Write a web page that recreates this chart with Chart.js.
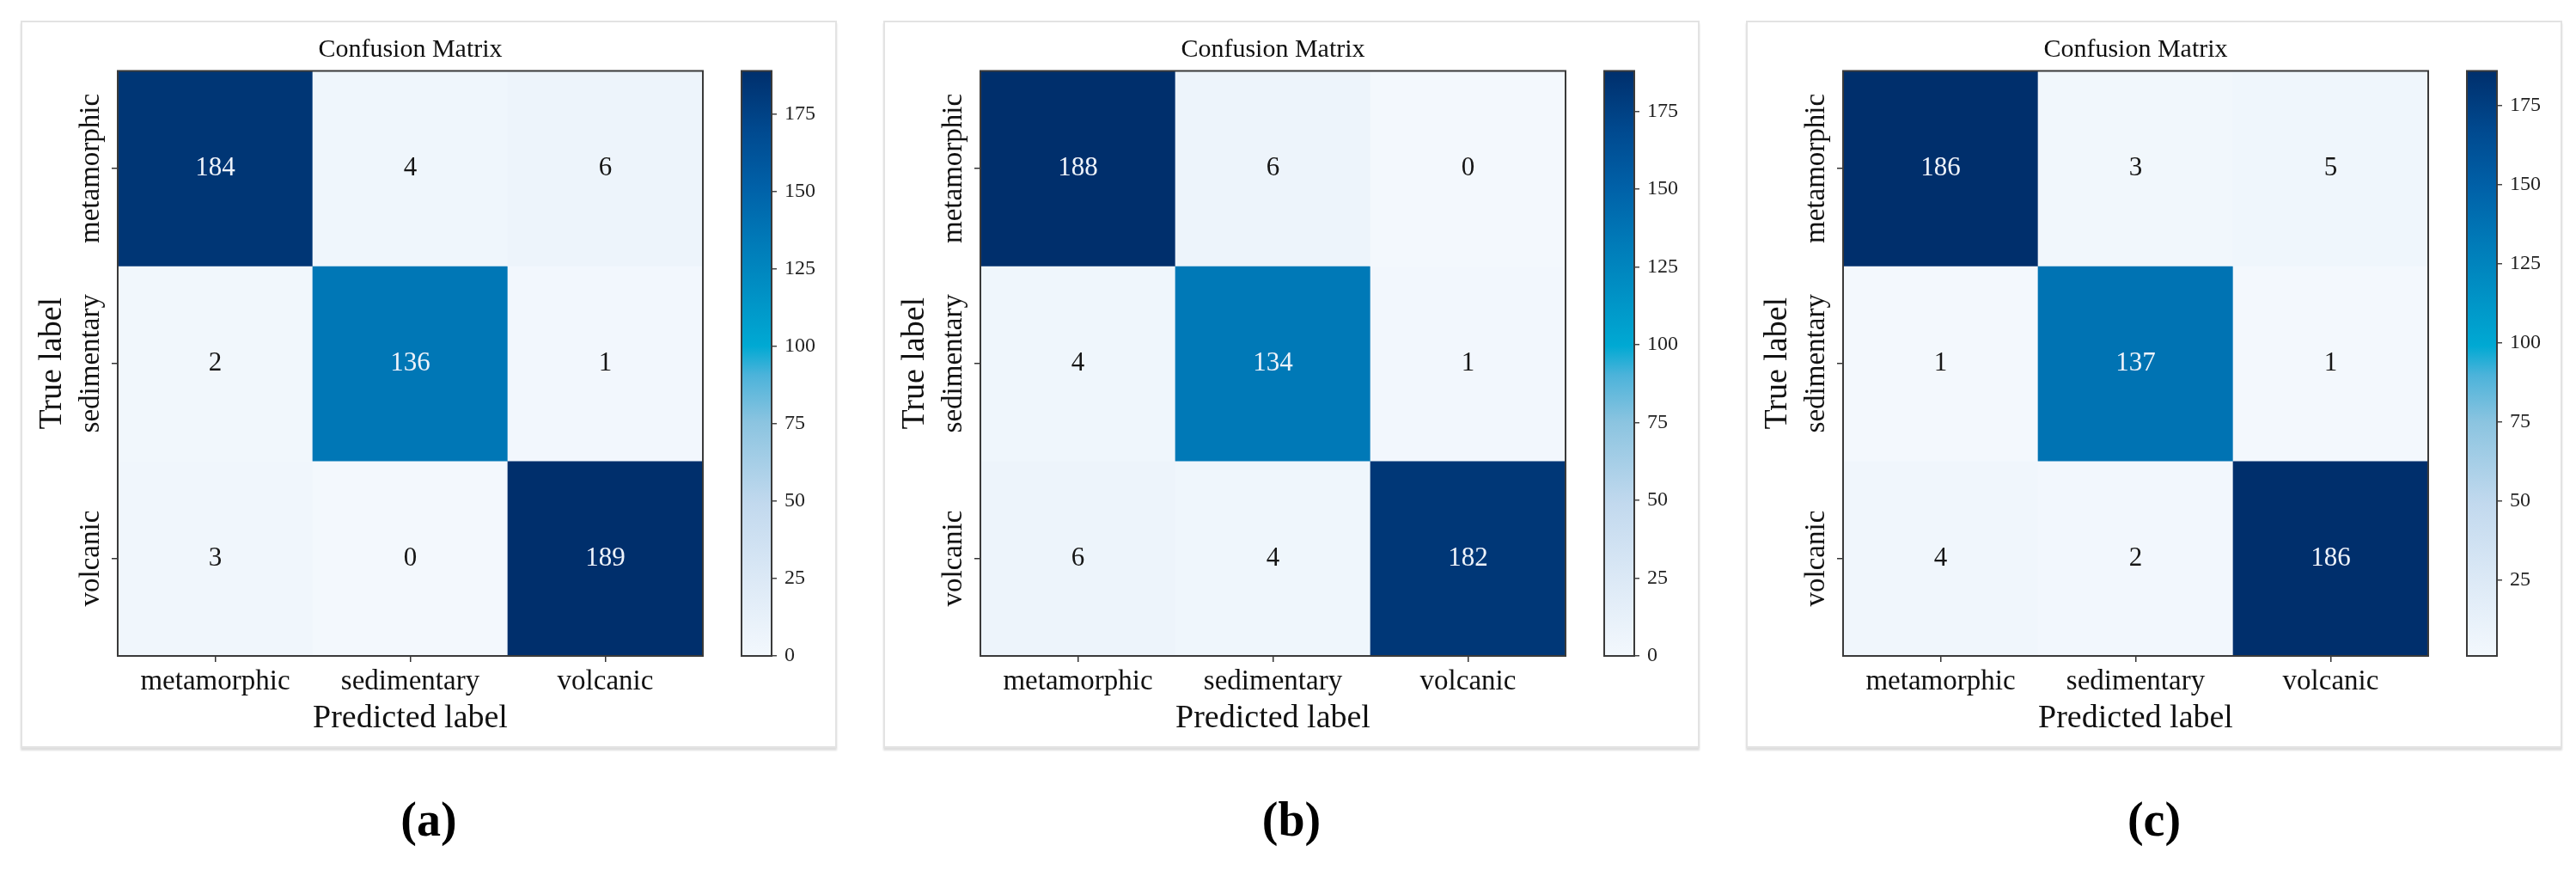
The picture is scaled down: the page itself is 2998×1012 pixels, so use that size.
<!DOCTYPE html>
<html>
<head>
<meta charset="utf-8">
<script src="https://cdn.jsdelivr.net/npm/chart.js@4.4.0/dist/chart.umd.min.js"></script>
<style>
  body { margin: 0; background: #fff; width: 2998px; height: 1012px; overflow: hidden; position: relative; }
  .panel { position: absolute; top: 24px; width: 946px; height: 842px; border: 2px solid #e3e3e3; box-shadow: 0 3px 2px #dedede; background: #fff; }
  .panel canvas { position: absolute; top: 0; }
  .letter { position: absolute; top: 925px; width: 950px; text-align: center; font: bold 56px "Liberation Serif", serif; line-height: 56px; color: #000; }
</style>
</head>
<body>
<div id="root"></div>
<script>
// class names and confusion matrices (rows = true label, cols = predicted)
const classNames = ['metamorphic', 'sedimentary', 'volcanic'];
const matrixA = [[184, 4, 6], [2, 136, 1], [3, 0, 189]];
const matrixB = [[188, 6, 0], [4, 134, 1], [6, 4, 182]];
const matrixC = [[186, 3, 5], [1, 137, 1], [4, 2, 186]];
const colorbarTicks = [0, 25, 50, 75, 100, 125, 150, 175];
const panelLetters = ['(a)', '(b)', '(c)'];

const SERIF = '"Liberation Serif", "Times New Roman", serif';
Chart.defaults.font.family = SERIF;

// colour ramp
const cmapStops = [
  [0.00, '#f3f8fd'], [0.13, '#dce9f6'], [0.26, '#c2d9ee'], [0.40, '#8bc4e0'],
  [0.48, '#4cb3da'], [0.53, '#00a9d3'], [0.62, '#0091c5'], [0.72, '#0077b6'],
  [0.80, '#0061a8'], [0.90, '#00498f'], [1.00, '#002f6c']
];

function hexToRgb(h) {
  return [parseInt(h.slice(1, 3), 16), parseInt(h.slice(3, 5), 16), parseInt(h.slice(5, 7), 16)];
}

function colorAt(t) {
  t = Math.max(0, Math.min(1, t));
  for (let i = 1; i < cmapStops.length; i++) {
    if (t <= cmapStops[i][0]) {
      const [t0, c0] = cmapStops[i - 1];
      const [t1, c1] = cmapStops[i];
      const f = (t - t0) / (t1 - t0);
      const a = hexToRgb(c0), b = hexToRgb(c1);
      const rgb = a.map((v, k) => Math.round(v + (b[k] - v) * f));
      return `rgb(${rgb[0]},${rgb[1]},${rgb[2]})`;
    }
  }
  return cmapStops[cmapStops.length - 1][1];
}

// frame around the plot area
const framePlugin = {
  id: 'frame',
  afterDatasetsDraw(chart) {
    const { ctx, chartArea: a } = chart;
    ctx.save();
    ctx.strokeStyle = '#3a3a3a';
    ctx.lineWidth = 2;
    ctx.strokeRect(a.left, a.top, a.right - a.left, a.bottom - a.top);
    ctx.restore();
  }
};

// numbers inside the cells
const cellTextPlugin = {
  id: 'cellText',
  afterDatasetsDraw(chart) {
    const { ctx } = chart;
    const thresh = chart.options.plugins.cellText.thresh;
    ctx.save();
    ctx.font = '31px ' + SERIF;
    ctx.textAlign = 'center';
    ctx.textBaseline = 'middle';
    chart.data.datasets.forEach((ds, di) => {
      chart.getDatasetMeta(di).data.forEach((bar, j) => {
        const v = ds.values[j];
        ctx.fillStyle = v > thresh ? '#eef3fa' : '#161616';
        ctx.fillText(String(v), bar.x, (bar.y + bar.base) / 2);
      });
    });
    ctx.restore();
  }
};

// rotated row labels on the left
const rowLabelPlugin = {
  id: 'rowLabels',
  afterDraw(chart) {
    const { ctx } = chart;
    const ys = chart.scales.y;
    ctx.save();
    ctx.font = '33px ' + SERIF;
    ctx.fillStyle = '#111';
    ctx.textAlign = 'center';
    ctx.textBaseline = 'middle';
    classNames.forEach((name, i) => {
      const y = ys.getPixelForValue(i + 0.5);
      ctx.save();
      ctx.translate(80, y);
      ctx.rotate(-Math.PI / 2);
      ctx.fillText(name, 0, 0);
      ctx.restore();
    });
    ctx.restore();
  }
};

function buildHeatmap(canvas, matrix) {
  const flat = matrix.flat();
  const vmin = Math.min(...flat), vmax = Math.max(...flat);
  const datasets = classNames.map((name, r) => ({
    label: name,
    data: matrix[r].map(() => [r, r + 1]),
    values: matrix[r],
    backgroundColor: matrix[r].map(v => colorAt((v - vmin) / (vmax - vmin))),
    borderWidth: 0,
    barPercentage: 1,
    categoryPercentage: 1,
    grouped: false
  }));

  const tickGrid = { display: true, drawOnChartArea: false, drawTicks: true, tickLength: 7, color: '#333', lineWidth: 1.5, offset: false };

  new Chart(canvas, {
    type: 'bar',
    data: { labels: classNames, datasets },
    options: {
      responsive: false,
      animation: false,
      layout: { padding: { left: 0, right: 18, top: 0, bottom: 0 } },
      plugins: {
        legend: { display: false },
        tooltip: { enabled: false },
        title: {
          display: true, text: 'Confusion Matrix', fullSize: false, color: '#111',
          font: { size: 30, weight: 'normal' }, padding: { top: 14, bottom: 6.5 }
        },
        cellText: { thresh: (vmax + vmin) / 2 }
      },
      scales: {
        x: {
          type: 'category',
          offset: true,
          grid: tickGrid,
          border: { display: false },
          ticks: { font: { size: 33 }, color: '#111', padding: 4, maxRotation: 0 },
          title: { display: true, text: 'Predicted label', color: '#111', font: { size: 38 }, padding: { top: 0, bottom: 9 } },
          afterFit: s => { s.height = 105; }
        },
        y: {
          type: 'linear',
          min: 0,
          max: classNames.length,
          reverse: true,
          afterBuildTicks: axis => { axis.ticks = classNames.map((_, i) => ({ value: i + 0.5 })); },
          grid: tickGrid,
          border: { display: false },
          ticks: { display: false },
          title: { display: true, text: 'True label', color: '#111', font: { size: 38 }, padding: { top: 12, bottom: 0 } },
          afterFit: s => { s.width = 111; }
        }
      }
    },
    plugins: [framePlugin, cellTextPlugin, rowLabelPlugin]
  });
  return { vmin, vmax };
}

function buildColorbar(canvas, vmin, vmax) {
  new Chart(canvas, {
    type: 'bar',
    data: {
      labels: [''],
      datasets: [{
        data: [[vmin, vmax]],
        backgroundColor: c => {
          const area = c.chart.chartArea;
          if (!area) return cmapStops[0][1];
          const g = c.chart.ctx.createLinearGradient(0, area.bottom, 0, area.top);
          cmapStops.forEach(([t, col]) => g.addColorStop(t, col));
          return g;
        },
        borderWidth: 0,
        barPercentage: 1,
        categoryPercentage: 1
      }]
    },
    options: {
      responsive: false,
      animation: false,
      layout: { padding: { left: 22, right: 0, top: 56.5, bottom: 105 } },
      plugins: { legend: { display: false }, tooltip: { enabled: false } },
      scales: {
        x: { display: false },
        y: {
          position: 'right',
          min: vmin,
          max: vmax,
          afterBuildTicks: axis => {
            axis.ticks = colorbarTicks.filter(v => v >= vmin && v <= vmax).map(v => ({ value: v }));
          },
          grid: { drawOnChartArea: false, tickLength: 6, color: '#444', lineWidth: 1.5 },
          border: { display: false },
          ticks: { font: { size: 24 }, color: '#222', padding: 9 },
          afterFit: s => { s.width = 68; }
        }
      }
    },
    plugins: [framePlugin]
  });
}

const root = document.getElementById('root');
[matrixA, matrixB, matrixC].forEach((matrix, p) => {
  const ox = 24 + p * 1004;
  const panel = document.createElement('div');
  panel.className = 'panel';
  panel.style.left = ox + 'px';
  root.appendChild(panel);

  const heat = document.createElement('canvas');
  heat.width = 810; heat.height = 842;
  heat.style.left = '0px';
  panel.appendChild(heat);

  const cbar = document.createElement('canvas');
  cbar.width = 125; cbar.height = 842;
  cbar.style.left = '815px';
  panel.appendChild(cbar);

  const { vmin, vmax } = buildHeatmap(heat, matrix);
  buildColorbar(cbar, vmin, vmax);

  const letter = document.createElement('div');
  letter.className = 'letter';
  letter.style.left = ox + 'px';
  letter.textContent = panelLetters[p];
  root.appendChild(letter);
});
</script>
</body>
</html>
